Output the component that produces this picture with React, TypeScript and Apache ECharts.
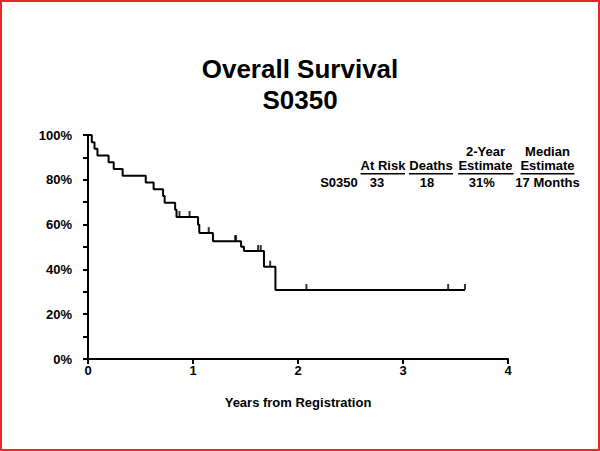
import React, { useEffect, useRef } from "react";
import * as echarts from "echarts";

// Kaplan-Meier step points: time (years) of each drop and survival (%) after it
const stepTimes = [0, 0.036, 0.062, 0.09, 0.196, 0.245, 0.33, 0.55, 0.625, 0.715, 0.73, 0.83, 0.843, 1.048, 1.06, 1.19, 1.458, 1.485, 1.676, 1.785, 3.59];
const stepSurvival = [100, 96.8, 93.9, 90.9, 87.8, 84.8, 81.8, 78.8, 75.8, 72.8, 69.7, 66.6, 63.4, 59.9, 56.2, 52.6, 50.1, 48.2, 41.2, 30.8, 30.8];

// Censored observations
const censorTimes = [0.871, 0.967, 1.15, 1.402, 1.41, 1.62, 1.645, 1.735, 2.08, 3.43, 3.59];
const censorSurvival = [63.4, 63.4, 56.2, 52.6, 52.6, 48.2, 48.2, 41.2, 30.8, 30.8, 30.8];

const xTicks = [0, 1, 2, 3, 4];
const yTickLabels = ["0%", "20%", "40%", "60%", "80%", "100%"];

const tableHeaderTop = ["", "", "", "2-Year", "Median"];
const tableHeaderBottom = ["", "At Risk", "Deaths", "Estimate", "Estimate"];
const tableRow = ["S0350", "33", "18", "31%", "17 Months"];

const FONT = "'Liberation Sans', Arial, Helvetica, sans-serif";

export default function App() {
  const ref = useRef<HTMLDivElement>(null);
  useEffect(() => {
    if (!ref.current) return;
    const chart = echarts.init(ref.current, null, { renderer: "svg" });

    const headCenters = [0, 383, 431, 485.5, 547.5];
    const underlineSpans: [number, number][] = [[0, 0], [360.5, 405], [409, 453], [458, 513.5], [520.5, 574.5]];
    const rowCenters = [339, 377, 427, 481.7, 547.5];
    const graphics: any[] = [
      {
        type: "rect",
        shape: { x: 1, y: 1, width: 598, height: 449 },
        style: { fill: "none", stroke: "#e8262d", lineWidth: 2 },
        silent: true,
      },
    ];
    const txt = (s: string, x: number, y: number) => ({
      type: "text",
      x,
      y,
      style: {
        text: s,
        fill: "#000",
        font: `bold 13px ${FONT}`,
        lineHeight: 14,
        textAlign: "center",
        textVerticalAlign: "bottom",
      },
    });
    tableHeaderBottom.forEach((s, i) => {
      if (!s) return;
      const label = tableHeaderTop[i] ? `${tableHeaderTop[i]}\n${s}` : s;
      graphics.push(txt(label, headCenters[i], 172.5));
      const [a, b] = underlineSpans[i];
      graphics.push({
        type: "line",
        shape: { x1: a, y1: 173.8, x2: b, y2: 173.8 },
        style: { stroke: "#000", lineWidth: 1.4 },
      });
    });
    tableRow.forEach((s, i) => graphics.push(txt(s, rowCenters[i], 189)));

    chart.setOption({
      animation: false,
      backgroundColor: "#fff",
      title: {
        text: "Overall Survival\nS0350",
        left: "center",
        top: 48,
        textStyle: {
          fontFamily: FONT,
          fontWeight: "bold",
          fontSize: 26,
          lineHeight: 31,
          color: "#000",
        },
      },
      grid: { left: 88, right: 92, top: 135, bottom: 92, containLabel: false },
      xAxis: {
        type: "value",
        min: 0,
        max: 4,
        interval: 1,
        name: "Years from Registration",
        nameLocation: "middle",
        nameGap: 37,
        nameTextStyle: { fontFamily: FONT, fontWeight: "bold", fontSize: 13, color: "#000" },
        axisLine: { show: true, onZero: false, lineStyle: { color: "#000", width: 2 } },
        axisTick: { show: true, inside: false, length: 5, lineStyle: { color: "#000", width: 2 } },
        axisLabel: {
          margin: 5,
          fontFamily: FONT,
          fontWeight: "bold",
          fontSize: 13,
          color: "#000",
          formatter: (v: number) => (xTicks.includes(v) ? String(v) : ""),
        },
        splitLine: { show: false },
      },
      yAxis: {
        type: "value",
        min: 0,
        max: 100,
        interval: 10,
        axisLine: { show: true, lineStyle: { color: "#000", width: 2 } },
        axisTick: { show: true, inside: false, length: 5, lineStyle: { color: "#000", width: 2 } },
        axisLabel: {
          margin: 16,
          fontFamily: FONT,
          fontWeight: "bold",
          fontSize: 13,
          color: "#000",
          formatter: (v: number) => (v % 20 === 0 ? yTickLabels[v / 20] : ""),
        },
        splitLine: { show: false },
      },
      graphic: graphics,
      series: [
        {
          type: "line",
          step: "end",
          data: stepTimes.map((t, i) => [t, stepSurvival[i]]),
          showSymbol: false,
          symbol: "none",
          lineStyle: { color: "#000", width: 2 },
          z: 3,
        },
        {
          type: "scatter",
          data: censorTimes.map((t, i) => [t, censorSurvival[i]]),
          symbol: "rect",
          symbolSize: [2, 6],
          symbolOffset: [0, -3],
          itemStyle: { color: "#000" },
          z: 4,
        },
      ],
    });
    return () => chart.dispose();
  }, []);
  return (
    <div
      ref={ref}
      style={{ position: "absolute", left: 0, top: 0, width: 600, height: 451 }}
    />
  );
}
